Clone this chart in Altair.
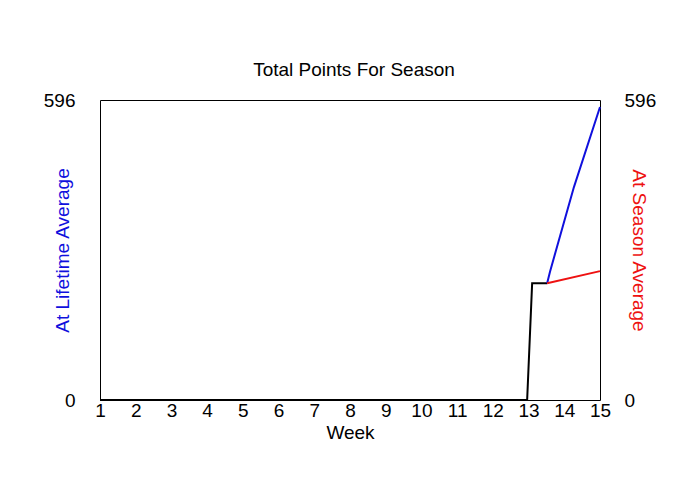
import altair as alt
import pandas as pd

# Data
total_weeks = [1, 12.96, 13.1, 13.52]
total_points = [0, 0, 232, 232]
lifetime_weeks = [13.52, 13.6, 14.27, 15]
lifetime_points = [232, 255, 423, 582]
season_weeks = [13.52, 15]
season_points = [232, 256]
week_ticks = list(range(1, 16))
y_ticks = [0, 596]

rows = []
for s, ws, ps in [("Total", total_weeks, total_points),
                  ("Lifetime", lifetime_weeks, lifetime_points),
                  ("Season", season_weeks, season_points)]:
    for i, (w, p) in enumerate(zip(ws, ps)):
        rows.append({"series": s, "week": w, "points": p, "i": i})
df = pd.DataFrame(rows)

FONT = "Liberation Sans"
FS = 19

x_enc = alt.X("week:Q",
              scale=alt.Scale(domain=[1, 15], nice=False, zero=False),
              axis=alt.Axis(title="Week", values=week_ticks, ticks=False, domain=False,
                            grid=False, labelFontSize=FS, labelPadding=1, labelFont=FONT,
                            labelColor="black", titleFontSize=FS, titleFont=FONT,
                            titleFontWeight="normal", titleColor="black",
                            titleBaseline="middle", titleY=32, labelFlush=False,
                            labelOverlap=False, format="d"))

yscale = alt.Scale(domain=[0, 596], nice=False, zero=True)

lines = alt.Chart(df).mark_line(strokeWidth=2).encode(
    x=x_enc,
    y=alt.Y("points:Q", scale=yscale,
            axis=alt.Axis(title="At Lifetime Average", values=y_ticks, ticks=False,
                          domain=False, grid=False, labelFontSize=FS, labelFont=FONT,
                          labelColor="black", labelPadding=25,
                          titleColor="#1010dd", titleFontSize=FS, titleFont=FONT,
                          titleFontWeight="normal", titleX=-38, titleY=150,
                          titleBaseline="middle", titleAlign="center", titleAngle=270)),
    color=alt.Color("series:N",
                    scale=alt.Scale(domain=["Total", "Lifetime", "Season"],
                                    range=["black", "#1010dd", "#ee1111"]),
                    legend=None),
    order="i:Q",
)

right = alt.Chart(df).mark_line(opacity=0).encode(
    x=x_enc,
    y=alt.Y("points:Q", scale=yscale,
            axis=alt.Axis(orient="right", title="At Season Average", values=y_ticks,
                          ticks=False, domain=False, grid=False, labelFontSize=FS,
                          labelFont=FONT, labelColor="black", labelPadding=24,
                          titleColor="#ee1111", titleFontSize=FS, titleFont=FONT,
                          titleFontWeight="normal", titleX=38, titleY=150,
                          titleBaseline="middle", titleAlign="center", titleAngle=90)),
    detail="series:N",
)

chart = alt.layer(lines, right).resolve_scale(y="independent").properties(
    width=500, height=300,
    title=alt.Title("Total Points For Season", fontSize=19, font=FONT,
                    fontWeight="normal", color="black", baseline="alphabetic",
                    offset=22, dy=26, dx=4, anchor="middle"),
    autosize=alt.AutoSizeParams(type="none"),
    padding={"left": 92, "top": 92, "right": 92, "bottom": 92},
    background="white",
).configure_view(stroke="black", strokeWidth=1)

chart.save("out.html", embed_options={"renderer": "svg", "actions": False})
